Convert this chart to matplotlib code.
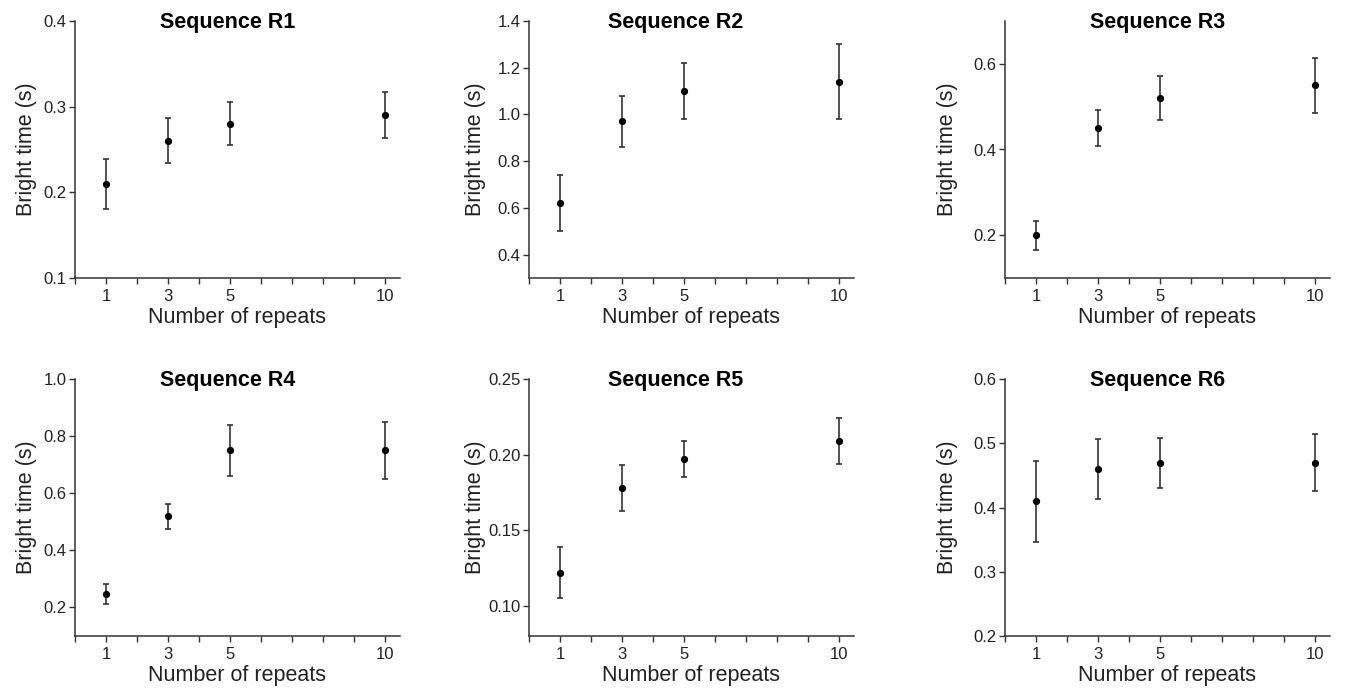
import numpy as np
import matplotlib.pyplot as plt

plt.rcParams['font.family'] = ['Liberation Sans', 'DejaVu Sans']

repeats = [1, 3, 5, 10]
titles = ['Sequence R1', 'Sequence R2', 'Sequence R3',
          'Sequence R4', 'Sequence R5', 'Sequence R6']

# mean bright time and the ends of the error bars
means = [
    [0.210, 0.260, 0.280, 0.290],
    [0.62, 0.97, 1.10, 1.14],
    [0.200, 0.450, 0.520, 0.550],
    [0.248, 0.520, 0.750, 0.750],
    [0.122, 0.178, 0.197, 0.209],
    [0.410, 0.460, 0.470, 0.470],
]
lows = [
    [0.181, 0.234, 0.255, 0.263],
    [0.50, 0.86, 0.98, 0.98],
    [0.166, 0.408, 0.468, 0.486],
    [0.212, 0.476, 0.659, 0.650],
    [0.105, 0.163, 0.185, 0.194],
    [0.347, 0.414, 0.431, 0.426],
]
highs = [
    [0.239, 0.287, 0.305, 0.317],
    [0.74, 1.08, 1.22, 1.30],
    [0.233, 0.492, 0.572, 0.614],
    [0.282, 0.561, 0.840, 0.850],
    [0.139, 0.193, 0.209, 0.224],
    [0.473, 0.506, 0.508, 0.514],
]

ylims = [(0.1, 0.4), (0.3, 1.4), (0.1, 0.7), (0.1, 1.0), (0.08, 0.25), (0.2, 0.6)]
yticks = [
    [0.1, 0.2, 0.3, 0.4],
    [0.4, 0.6, 0.8, 1.0, 1.2, 1.4],
    [0.2, 0.4, 0.6],
    [0.2, 0.4, 0.6, 0.8, 1.0],
    [0.10, 0.15, 0.20, 0.25],
    [0.2, 0.3, 0.4, 0.5, 0.6],
]
yfmt = ['%.1f', '%.1f', '%.1f', '%.1f', '%.2f', '%.1f']

W, H = 1345, 692
fig = plt.figure(figsize=(W / 100, H / 100), dpi=100)

lefts = [75, 529, 1005]
tops = [21, 379]
aw, ah = 325, 257
label_x = [-0.117, -0.132, -0.145]
title_x = [0.47, 0.45, 0.47]

dark = '#222222'

for i in range(6):
    r, c = divmod(i, 3)
    ax = fig.add_axes([lefts[c] / W, 1 - (tops[r] + ah) / H, aw / W, ah / H])
    m = np.array(means[i])
    lo = m - np.array(lows[i])
    hi = np.array(highs[i]) - m
    ax.errorbar(repeats, m, yerr=[lo, hi], fmt='o', color='black', ms=4.2,
                ecolor='#333333', elinewidth=1.2, capsize=2.3, capthick=1.2)

    ax.set_xlim(0, 10.5)
    ax.set_ylim(*ylims[i])
    ax.set_xticks(repeats)
    ax.set_xticks(range(0, 11), minor=True)
    ax.set_yticks(yticks[i])
    ax.set_yticklabels([yfmt[i] % v for v in yticks[i]])

    for s in ['top', 'right']:
        ax.spines[s].set_visible(False)
    for s in ['left', 'bottom']:
        ax.spines[s].set_color('#333333')
        ax.spines[s].set_linewidth(1.1)

    ax.tick_params(axis='both', which='both', direction='out', color='#333333',
                   width=1.0, labelsize=12, labelcolor=dark)
    ax.tick_params(axis='x', which='both', length=4, pad=4)
    ax.tick_params(axis='y', which='major', length=4, pad=2)

    ax.set_xlabel('Number of repeats', fontsize=15.5, color=dark, labelpad=2)
    ax.set_ylabel('Bright time (s)', fontsize=15.5, color=dark)
    ax.yaxis.set_label_coords(label_x[c], 0.5)
    ax.text(title_x[c], 0.972, titles[i], transform=ax.transAxes, ha='center',
            va='baseline', fontsize=15.5, fontweight='bold', color='black')

fig.savefig('out.png', dpi=100)
